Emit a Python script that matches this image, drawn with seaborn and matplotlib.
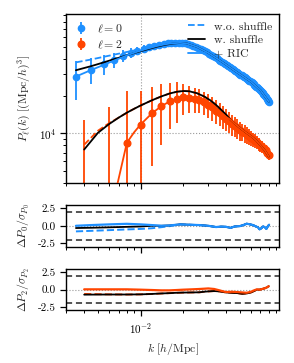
import numpy as np
import matplotlib
matplotlib.use('Agg')
import matplotlib.pyplot as plt
import matplotlib.ticker as mticker
from matplotlib.lines import Line2D
import seaborn as sns

# --- data (P in units of 1e3 (Mpc/h)^3) ---
k0 = [0.0035, 0.0045, 0.0055, 0.0065, 0.0075, 0.0085, 0.0095, 0.0105, 0.0115, 0.0125,
      0.0135, 0.0145, 0.0155, 0.0165, 0.0175, 0.0185, 0.0195, 0.0205, 0.0215, 0.0225,
      0.0235, 0.0245, 0.0255, 0.0265, 0.0275, 0.0285, 0.0295, 0.0305, 0.0315, 0.0325,
      0.0335, 0.0345, 0.0355, 0.0365, 0.0375, 0.0385, 0.0395, 0.0405, 0.0415, 0.0425,
      0.0435, 0.0445, 0.0455, 0.0465, 0.0475, 0.0485, 0.0495, 0.0505, 0.0515, 0.0525,
      0.0535, 0.0545, 0.0555, 0.0565, 0.0575, 0.0585, 0.0595, 0.0605, 0.0615, 0.0625,
      0.0635, 0.0645, 0.0655, 0.0665, 0.0675, 0.0685, 0.0695, 0.0705, 0.0715, 0.0725,
      0.0735, 0.0745, 0.0755, 0.0765, 0.0775, 0.0785, 0.0795, 0.0805]
P0 = [28.6, 32.8, 36.2, 39.5, 42.3, 44.6, 46.6, 48.3, 49.8, 51.0,
      52.0, 52.8, 53.4, 53.8, 54.0, 54.0, 53.8, 53.4, 52.8, 52.0,
      51.1, 50.2, 49.2, 48.2, 47.2, 46.2, 45.2, 44.2, 43.2, 42.2,
      41.2, 40.3, 39.5, 38.7, 37.9, 37.1, 36.4, 35.7, 35.0, 34.3,
      33.6, 32.9, 32.3, 31.8, 31.3, 30.8, 30.3, 29.9, 29.5, 29.1,
      28.7, 28.3, 27.9, 27.5, 27.1, 26.7, 26.3, 25.9, 25.5, 25.1,
      24.7, 24.3, 23.9, 23.5, 23.1, 22.7, 22.3, 21.9, 21.5, 21.1,
      20.7, 20.3, 19.9, 19.5, 19.1, 18.7, 18.3, 17.9]
sig0 = [10.0, 7.5, 6.5, 5.5, 4.6, 4.0, 3.5, 3.1, 2.8, 2.6,
        2.4, 2.2, 2.1, 2.0, 1.9, 1.8, 1.7, 1.6, 1.5, 1.45,
        1.4, 1.35, 1.3, 1.25, 1.2, 1.15, 1.1, 1.07, 1.04, 1.0,
        0.97, 0.94, 0.91, 0.88, 0.85, 0.82, 0.8, 0.78, 0.76, 0.74,
        0.72, 0.7, 0.68, 0.66, 0.64, 0.62, 0.6, 0.59, 0.58, 0.57,
        0.56, 0.55, 0.54, 0.53, 0.52, 0.51, 0.5, 0.49, 0.48, 0.47,
        0.46, 0.45, 0.44, 0.43, 0.42, 0.41, 0.4, 0.39, 0.38, 0.37,
        0.36, 0.35, 0.34, 0.33, 0.32, 0.31, 0.3, 0.29]

k2 = [0.004, 0.006, 0.008, 0.010, 0.012, 0.014, 0.016, 0.018, 0.020, 0.022,
      0.024, 0.026, 0.028, 0.030, 0.032, 0.034, 0.036, 0.038, 0.040, 0.042,
      0.044, 0.046, 0.048, 0.050, 0.052, 0.054, 0.056, 0.058, 0.060, 0.062,
      0.064, 0.066, 0.068, 0.070, 0.072, 0.074, 0.076, 0.078, 0.080]
P2 = [2.0, 2.5, 8.4, 11.7, 14.5, 16.6, 18.1, 19.1, 19.5, 19.4,
      19.0, 18.6, 17.9, 17.0, 16.2, 15.3, 14.5, 13.8, 13.1, 12.5,
      11.9, 11.4, 11.0, 10.6, 10.3, 10.0, 9.7, 9.45, 9.2, 8.95,
      8.7, 8.45, 8.2, 8.0, 7.8, 7.55, 7.3, 7.0, 6.7]
sig2 = [10.8, 13.8, 13.5, 10.5, 9.1, 8.5, 7.3, 7.0, 5.5, 4.9,
        4.4, 4.1, 3.9, 3.7, 3.5, 3.3, 3.1, 2.9, 2.7, 2.5,
        2.3, 2.1, 2.0, 1.85, 1.7, 1.6, 1.5, 1.4, 1.3, 1.2,
        1.1, 1.0, 0.95, 0.9, 0.85, 0.8, 0.75, 0.7, 0.65]

# models, monopole
km0_low = [0.0035, 0.0045, 0.0055, 0.0065, 0.0075, 0.0085, 0.0095, 0.011, 0.013, 0.015, 0.017, 0.019, 0.021]
km0_tail = [0.025, 0.03, 0.035, 0.04, 0.045, 0.05, 0.06, 0.07, 0.0805]
m0_tail = [50.0, 44.7, 39.9, 36.0, 32.7, 30.1, 26.1, 22.3, 17.9]
m0_wo = [37.5, 39.6, 41.6, 43.3, 44.8, 46.2, 47.4, 49.0, 51.0, 52.5, 53.4, 53.8, 53.5]
m0_w = [32.4, 35.0, 37.5, 39.8, 41.8, 43.7, 45.4, 47.6, 50.2, 52.1, 53.3, 53.8, 53.5]
m0_ric = [28.8, 32.6, 35.8, 38.8, 41.4, 43.8, 45.8, 48.2, 50.8, 52.6, 53.6, 53.9, 53.5]

# models, quadrupole
km2_low = [0.004, 0.005, 0.006, 0.007, 0.008, 0.009, 0.010, 0.012, 0.014, 0.016,
           0.018, 0.020, 0.022, 0.025, 0.028, 0.031, 0.034, 0.037, 0.040]
km2_tail = [0.043, 0.046, 0.05, 0.055, 0.06, 0.065, 0.07, 0.075, 0.08]
m2_tail = [12.9, 12.0, 11.1, 10.2, 9.5, 8.8, 8.0, 7.3, 6.5]
m2_w = [7.4, 10.1, 11.9, 13.4, 14.7, 15.8, 16.8, 18.5, 19.9, 21.0,
        21.7, 22.0, 21.9, 21.1, 19.9, 18.5, 17.0, 15.5, 14.2]
m2_wo = [8.1, 10.5, 12.1] + m2_w[3:]
m2_ric = [0.3, 0.8, 2.0, 4.3, 8.4, 10.2, 11.8, 14.5, 16.6, 18.1,
          19.0, 19.4, 19.5, 19.1, 18.1, 16.9, 15.6, 14.6, 13.6]

# residuals (Delta P / sigma)
kr0 = [0.0035, 0.0045, 0.006, 0.008, 0.010, 0.012, 0.014, 0.016, 0.019, 0.022, 0.026,
       0.030, 0.034, 0.037, 0.040, 0.043, 0.046, 0.050, 0.053, 0.056, 0.059, 0.062,
       0.065, 0.067, 0.069, 0.071, 0.073, 0.075, 0.077, 0.079, 0.0805]
r0_tail = [0.2, 0.15, 0.1, 0.0, -0.18, -0.12, -0.15, -0.3, -0.1, -0.05, 0.1, 0.3,
           0.2, 0.1, -0.1, -0.2, -0.5, -0.35, -0.1, -0.2, -0.45, -0.05, 0.15]
r0_ric = [0.0, 0.1, 0.2, 0.28, 0.2, 0.1, 0.0, 0.05]
r0_w = [-0.32, -0.28, -0.22, -0.15, -0.1, 0.0, 0.0, 0.05]
r0_wo = [-0.8, -0.72, -0.62, -0.52, -0.45, -0.35, -0.2, -0.05]

kr2 = [0.004, 0.006, 0.008, 0.010, 0.012, 0.014, 0.016, 0.018, 0.020, 0.023, 0.026,
       0.028, 0.030, 0.033, 0.036, 0.040, 0.044, 0.048, 0.052, 0.056, 0.060, 0.063,
       0.066, 0.069, 0.072, 0.075, 0.078, 0.080]
r2_ric = [0.05, 0.05, 0.05, 0.0, -0.05, -0.1, -0.1, -0.05, 0.0, 0.05, 0.1, 0.14, 0.18, 0.1,
          -0.1, -0.35, -0.3, -0.35, -0.4, -0.45, -0.3, -0.1, 0.05, 0.0, 0.1, 0.2, 0.35, 0.5]
r2_w = [-0.72, -0.7, -0.7, -0.68, -0.62, -0.55, -0.5, -0.45, -0.42, -0.4, -0.38, -0.3, -0.25, -0.2,
        -0.25, -0.4, -0.45, -0.5, -0.6, -0.55, -0.4, -0.2, 0.0, 0.0, 0.1, 0.2, 0.35, 0.5]
r2_wo = [-0.62, -0.68] + r2_w[2:]

BLUE = '#1E90FF'
RED = '#FF4500'

sns.set_theme(style='ticks')
plt.rcParams.update({
    'font.family': 'serif',
    'font.serif': ['cmr10'],
    'mathtext.fontset': 'cm',
    'axes.formatter.use_mathtext': True,
    'font.size': 8,
    'axes.labelsize': 8.5,
    'xtick.labelsize': 8,
    'ytick.labelsize': 8,
    'legend.fontsize': 8.5,
    'axes.linewidth': 1.0,
    'axes.edgecolor': 'black',
    'xtick.color': 'black',
    'ytick.color': 'black',
    'xtick.major.size': 4, 'ytick.major.size': 4,
    'xtick.minor.size': 2, 'ytick.minor.size': 2,
    'xtick.major.width': 0.9, 'ytick.major.width': 0.9,
    'xtick.minor.width': 0.7, 'ytick.minor.width': 0.7,
})

fig = plt.figure(figsize=(2.94, 3.63), dpi=100)
ax = fig.add_axes([0.226, 0.497, 0.724, 0.464])
ax1 = fig.add_axes([0.226, 0.320, 0.724, 0.116], sharex=ax)
ax2 = fig.add_axes([0.226, 0.145, 0.724, 0.114], sharex=ax)

sc = 1e3
ax.set_xscale('log')
ax.set_yscale('log')

eb0 = ax.errorbar(k0, np.array(P0) * sc, yerr=np.array(sig0) * sc, fmt='o', color=BLUE,
                  ms=4.5, elinewidth=1.3, capsize=0, zorder=2, label=r'$\ell = 0$')
eb2 = ax.errorbar(k2, np.array(P2) * sc, yerr=np.array(sig2) * sc, fmt='o', color=RED,
                  ms=4.8, elinewidth=1.3, capsize=0, zorder=2, label=r'$\ell = 2$')

km0 = km0_low + km0_tail
km2 = km2_low + km2_tail
sns.lineplot(x=km0, y=np.array(m0_wo + m0_tail) * sc, ax=ax, color=BLUE, lw=1.3,
             linestyle='--', estimator=None, sort=False, zorder=3)
sns.lineplot(x=km0, y=np.array(m0_w + m0_tail) * sc, ax=ax, color='black', lw=1.3,
             estimator=None, sort=False, zorder=3)
sns.lineplot(x=km0, y=np.array(m0_ric + m0_tail) * sc, ax=ax, color=BLUE, lw=1.3,
             estimator=None, sort=False, zorder=3)
sns.lineplot(x=km2, y=np.array(m2_wo + m2_tail) * sc, ax=ax, color=RED, lw=1.3,
             linestyle='--', estimator=None, sort=False, zorder=3)
sns.lineplot(x=km2, y=np.array(m2_w + m2_tail) * sc, ax=ax, color='black', lw=1.3,
             estimator=None, sort=False, zorder=3)
sns.lineplot(x=km2, y=np.array(m2_ric + m2_tail) * sc, ax=ax, color=RED, lw=1.3,
             estimator=None, sort=False, zorder=3)

ax.axvline(0.01, color='0.6', ls=':', lw=0.8, zorder=1)
ax.axhline(1e4, color='0.6', ls=':', lw=0.8, zorder=1)
ax.set_xlim(0.003, 0.095)
ax.set_ylim(4000, 9.2e4)
ax.set_ylabel(r'$P_\ell(k)\ [(\mathrm{Mpc}/h)^3]$')
ax.tick_params(labelbottom=False)

leg1 = ax.legend(handles=[eb0, eb2], loc='upper left', frameon=False, handlelength=1.0,
                 handletextpad=0.9, borderaxespad=0.3, labelspacing=0.3)
ax.add_artist(leg1)
h2 = [Line2D([], [], color=BLUE, ls='--', lw=1.3),
      Line2D([], [], color='black', lw=1.3),
      Line2D([], [], color=BLUE, lw=1.3)]
ax.legend(h2, ['w.o. shuffle', 'w. shuffle', '+ RIC'], loc='upper right', frameon=False,
          handlelength=1.4, handletextpad=0.8, borderaxespad=0.2, labelspacing=0.3)

# residual panels
sns.lineplot(x=kr0, y=r0_wo + r0_tail, ax=ax1, color=BLUE, lw=1.4, linestyle='--',
             estimator=None, sort=False)
sns.lineplot(x=kr0, y=r0_w + r0_tail, ax=ax1, color='black', lw=1.3,
             estimator=None, sort=False)
sns.lineplot(x=kr0, y=r0_ric + r0_tail, ax=ax1, color=BLUE, lw=1.6,
             estimator=None, sort=False)

sns.lineplot(x=kr2, y=r2_wo, ax=ax2, color=RED, lw=1.4, linestyle='--',
             estimator=None, sort=False)
sns.lineplot(x=kr2, y=r2_w, ax=ax2, color='black', lw=1.3,
             estimator=None, sort=False)
sns.lineplot(x=kr2, y=r2_ric, ax=ax2, color=RED, lw=1.6,
             estimator=None, sort=False)

for a, lab in [(ax1, r'$\Delta P_0/\sigma_{P_0}$'), (ax2, r'$\Delta P_2/\sigma_{P_2}$')]:
    a.axhline(0, color='0.6', ls=':', lw=0.8, zorder=0)
    for yv in (2, -2):
        a.axhline(yv, color='0.15', ls=(0, (4, 2.5)), lw=1.1)
    a.set_ylim(-3, 3)
    a.set_yticks([-2.5, 0, 2.5])
    a.yaxis.set_major_formatter(mticker.FormatStrFormatter('%.1f'))
    a.set_ylabel(lab)

ax1.tick_params(labelbottom=False)
ax2.set_xlabel(r'$k\ [h/\mathrm{Mpc}]$')

for a in (ax, ax1, ax2):
    a.xaxis.set_minor_formatter(mticker.NullFormatter())
    a.tick_params(which='both', direction='out', top=False, right=False)
ax.yaxis.set_minor_formatter(mticker.NullFormatter())

fig.savefig('out.png', dpi=100)
